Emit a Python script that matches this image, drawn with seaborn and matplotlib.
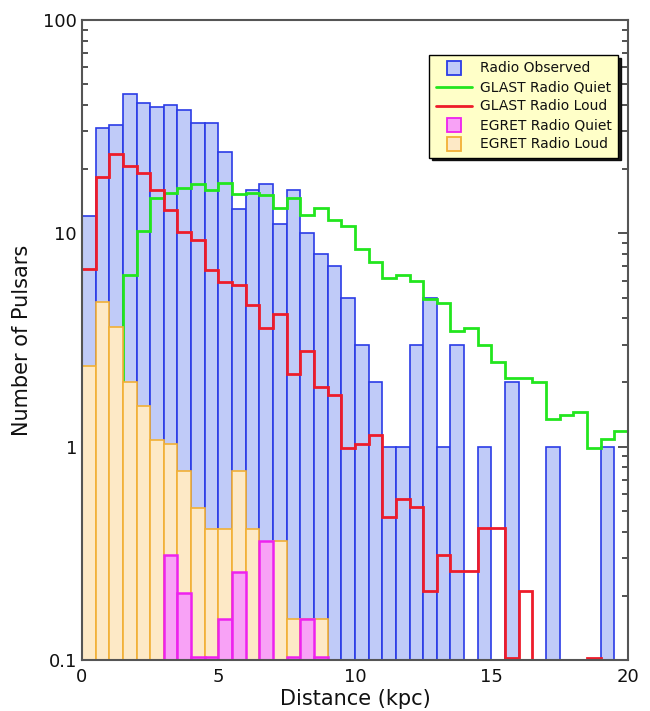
import numpy as np
import pandas as pd
import matplotlib
matplotlib.use("Agg")
import matplotlib.pyplot as plt
import seaborn as sns
from matplotlib.lines import Line2D

# ---- data (counts per 0.5 kpc bin, 0-20 kpc) ----
bin_edges = [i * 0.5 for i in range(41)]
bin_centers = [e + 0.25 for e in bin_edges[:-1]]

radio_observed = [12, 31, 32, 45, 41, 39, 40, 38, 33, 33,
                  24, 13, 16, 17, 11, 16, 10, 8, 7, 5,
                  3, 2, 1, 1, 3, 5, 1, 3, 0, 1,
                  0, 2, 0, 0, 1, 0, 0, 0, 1, 0]

glast_radio_quiet = [0, 0, 0, 6.4, 10.3, 14.7, 15.5, 16.3, 17.1, 16.0,
                     17.2, 15.2, 15.4, 15.1, 13.2, 14.6, 12.2, 13.2, 11.6, 10.8,
                     8.4, 7.3, 6.2, 6.4, 6.0, 4.9, 4.7, 3.5, 3.6, 3.0,
                     2.5, 2.1, 2.1, 2.0, 1.35, 1.4, 1.46, 0.99, 1.09, 1.19]

glast_radio_loud = [6.8, 18.4, 23.6, 20.7, 19.2, 16.0, 12.9, 10.1, 9.3, 6.7,
                    5.9, 5.7, 4.6, 3.6, 4.2, 2.2, 2.8, 1.9, 1.75, 0.99,
                    1.03, 1.14, 0.47, 0.57, 0.52, 0.21, 0.31, 0.26, 0.26, 0.415,
                    0.415, 0.102, 0.21, 0, 0, 0, 0, 0.102, 0, 0]

egret_radio_loud = [2.4, 4.75, 3.64, 2.0, 1.55, 1.08, 1.03, 0.77, 0.515, 0.41,
                    0.41, 0.77, 0.41, 0, 0.36, 0.155, 0.155, 0.155, 0, 0,
                    0, 0, 0, 0, 0, 0, 0, 0, 0, 0,
                    0, 0, 0, 0, 0, 0, 0, 0, 0, 0]

egret_radio_quiet = [0, 0, 0, 0, 0, 0, 0.31, 0.207, 0.103, 0.103,
                     0.155, 0.258, 0, 0.36, 0, 0.103, 0.155, 0.103, 0, 0,
                     0, 0, 0, 0, 0, 0, 0, 0, 0, 0,
                     0, 0, 0, 0, 0, 0, 0, 0, 0, 0]

y_ticks = [0.1, 1, 10, 100]
y_tick_labels = ["0.1", "1", "10", "100"]
x_ticks = [0, 5, 10, 15, 20]

df = pd.DataFrame({
    "center": bin_centers,
    "radio": radio_observed,
    "egret_loud": egret_radio_loud,
    "egret_quiet": egret_radio_quiet,
})

# ---- style ----
sns.set_style("ticks")
plt.rcParams["font.family"] = ["DejaVu Sans"]
plt.rcParams["text.color"] = "#111111"
plt.rcParams["axes.labelcolor"] = "#111111"

blue_face, blue_edge = "#c0cbf8", "#2b3ce6"
orange_face, orange_edge = "#fde9c6", "#f2b035"
mag_face, mag_edge = "#f8a2f6", "#ee22ee"
green = "#22e61e"
red = "#ee1c2a"

fig = plt.figure(figsize=(6.5, 7.11), dpi=100)
ax = fig.add_axes([0.126, 0.0717, 0.840, 0.9003])
ax.set_yscale("log")

sns.histplot(data=df, x="center", weights="radio", bins=bin_edges, ax=ax,
             facecolor=blue_face, edgecolor=blue_edge, linewidth=1.2,
             alpha=1, zorder=1)

ax.stairs(glast_radio_quiet, bin_edges, baseline=None, color=green,
          linewidth=2, zorder=2)
ax.stairs(glast_radio_loud, bin_edges, baseline=None, color=red,
          linewidth=2, zorder=2.1)

sns.histplot(data=df, x="center", weights="egret_loud", bins=bin_edges, ax=ax,
             facecolor=orange_face, edgecolor=orange_edge, linewidth=1.2,
             alpha=1, zorder=3)
sns.histplot(data=df, x="center", weights="egret_quiet", bins=bin_edges, ax=ax,
             facecolor=mag_face, edgecolor=mag_edge, linewidth=1.8,
             alpha=1, zorder=4)

ax.set_xlim(0, 20)
ax.set_ylim(0.1, 100)
ax.set_xticks(x_ticks)
ax.set_xticklabels([str(t) for t in x_ticks])
ax.set_yticks(y_ticks)
ax.set_yticklabels(y_tick_labels)

ax.tick_params(axis="y", which="both", direction="in", left=True, right=True,
               labelsize=13, color="#333333", labelcolor="#111111")
ax.tick_params(axis="y", which="major", length=7, width=1.2)
ax.tick_params(axis="y", which="minor", length=4, width=1.2)
ax.tick_params(axis="x", which="both", length=0, labelsize=13, pad=6,
               labelcolor="#111111")

for sp in ax.spines.values():
    sp.set_visible(True)
    sp.set_color("#555555")
    sp.set_linewidth(1.5)
    sp.set_zorder(10)

ax.set_xlabel("Distance (kpc)", fontsize=15, labelpad=2)
ax.set_ylabel("Number of Pulsars", fontsize=15, labelpad=8)

handles = [
    Line2D([], [], marker="s", markersize=10.5, markerfacecolor=blue_face,
           markeredgecolor=blue_edge, markeredgewidth=1.3, linestyle="None"),
    Line2D([], [], color=green, linewidth=2),
    Line2D([], [], color=red, linewidth=2),
    Line2D([], [], marker="s", markersize=10.5, markerfacecolor=mag_face,
           markeredgecolor=mag_edge, markeredgewidth=1.3, linestyle="None"),
    Line2D([], [], marker="s", markersize=10.5, markerfacecolor=orange_face,
           markeredgecolor=orange_edge, markeredgewidth=1.3, linestyle="None"),
]
labels = ["Radio Observed", "GLAST Radio Quiet", "GLAST Radio Loud",
          "EGRET Radio Quiet", "EGRET Radio Loud"]
leg = ax.legend(handles, labels, loc="upper right",
                bbox_to_anchor=(0.982, 0.945), fontsize=10,
                frameon=True, fancybox=False, framealpha=1,
                facecolor="#ffffc8", edgecolor="black",
                shadow={"color": "black", "alpha": 0.9},
                handlelength=2.6, handletextpad=0.6, labelspacing=0.36,
                borderpad=0.45, borderaxespad=0)
leg.get_frame().set_linewidth(1.0)
leg.set_zorder(20)

fig.savefig("out.png", dpi=100, facecolor="white")
